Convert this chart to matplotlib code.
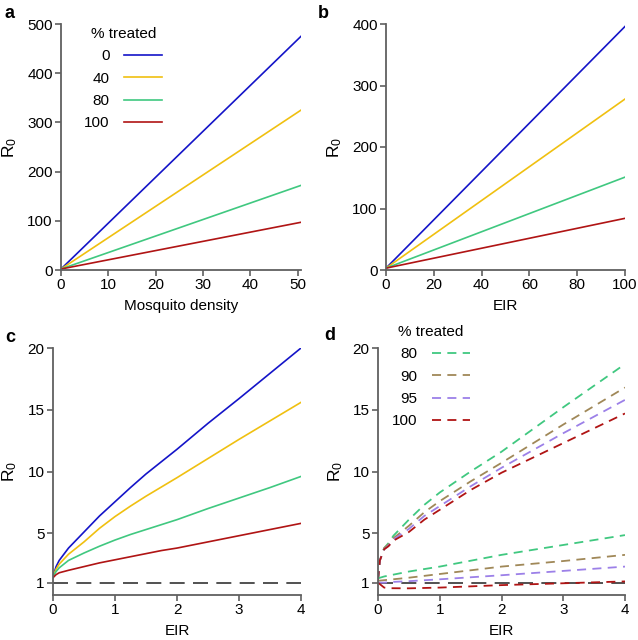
import numpy as np
import matplotlib
matplotlib.use("Agg")
import matplotlib.pyplot as plt

plt.rcParams['font.family'] = ['Liberation Sans', 'DejaVu Sans']
plt.rcParams['mathtext.fontset'] = 'custom'
plt.rcParams['mathtext.rm'] = 'Liberation Sans'
plt.rcParams['mathtext.it'] = 'Liberation Sans'
plt.rcParams['font.size'] = 11

# panel a: R0 vs mosquito density
dens = [0, 50.7]
a_vals = {"0": [2, 475], "40": [2, 325], "80": [2, 172], "100": [2, 97]}

# panel b: R0 vs EIR (large range)
eir_b = [0, 100]
b_vals = {"0": [3, 396], "40": [3, 278], "80": [3, 151], "100": [3, 84]}

# panel c: R0 vs EIR (small range)
eir_c = [0, 0.05, 0.1, 0.25, 0.5, 0.75, 1, 1.25, 1.5, 1.75, 2, 2.5, 3, 3.5, 4]
c_vals = {
    "0":   [1.5, 2.3, 2.8, 3.8, 5.1, 6.4, 7.55, 8.7, 9.8, 10.8, 11.8, 13.9, 15.9, 17.95, 20.0],
    "40":  [1.5, 2.1, 2.5, 3.3, 4.3, 5.4, 6.35, 7.2, 8.0, 8.75, 9.5, 11.05, 12.6, 14.1, 15.6],
    "80":  [1.5, 1.9, 2.2, 2.8, 3.4, 3.95, 4.45, 4.9, 5.3, 5.7, 6.1, 7.0, 7.85, 8.7, 9.6],
    "100": [1.4, 1.65, 1.8, 2.0, 2.3, 2.6, 2.85, 3.1, 3.35, 3.6, 3.8, 4.3, 4.8, 5.3, 5.8],
}

# panel d: two families of dashed curves
eir_d = [0, 0.03, 0.1, 0.17, 0.25, 0.5, 0.75, 1, 1.5, 2, 3, 4]
d_upper = {
    "80":  [1.2, 2.8, 3.8, 4.2, 4.8, 6.1, 7.3, 8.3, 10.0, 11.6, 15.2, 18.7],
    "90":  [1.2, 2.8, 3.8, 4.1, 4.6, 5.6, 6.7, 7.6, 9.2, 10.7, 13.8, 16.8],
    "95":  [1.2, 2.8, 3.7, 4.0, 4.5, 5.35, 6.4, 7.2, 8.8, 10.3, 13.1, 15.8],
    "100": [1.2, 2.8, 3.7, 3.95, 4.4, 5.1, 6.1, 6.9, 8.5, 9.9, 12.3, 14.7],
}
eir_d_low = [0, 0.1, 0.2, 0.5, 1, 2, 3, 4]
d_lower = {
    "80":  [1.35, 1.5, 1.6, 1.9, 2.3, 3.25, 4.05, 4.85],
    "90":  [1.15, 1.2, 1.25, 1.4, 1.7, 2.3, 2.75, 3.25],
    "95":  [1.0, 1.0, 1.05, 1.12, 1.27, 1.6, 1.95, 2.3],
    "100": [1.0, 0.6, 0.55, 0.54, 0.6, 0.8, 0.95, 1.1],
}

cols_solid = {"0": "#1414c8", "40": "#f0c010", "80": "#40c880", "100": "#b01414"}
cols_dash = {"80": "#40c880", "90": "#a08858", "95": "#9c80e8", "100": "#b01414"}

W, H = 638, 640
fig = plt.figure(figsize=(W / 100, H / 100), dpi=100)


def px(l, r, t, b):
    return [l / W, 1 - b / H, (r - l) / W, (b - t) / H]


def style(ax):
    for s in ["top", "right"]:
        ax.spines[s].set_visible(False)
    for s in ["left", "bottom"]:
        ax.spines[s].set_color("#606060")
        ax.spines[s].set_linewidth(1.3)
    ax.tick_params(direction="out", length=4, width=1.2, color="#606060", pad=2)


ax_a = fig.add_axes(px(61, 301, 24, 270))
ax_b = fig.add_axes(px(386, 625, 24, 270))
ax_c = fig.add_axes(px(53, 301, 348, 595))
ax_d = fig.add_axes(px(378, 625, 348, 595))

for k in a_vals:
    ax_a.plot(dens, a_vals[k], color=cols_solid[k], lw=1.2, label=k)
ax_a.set_xlim(0, 50.7)
ax_a.set_ylim(0, 500)
ax_a.set_xticks([0, 10, 20, 30, 40, 50])
ax_a.set_yticks([0, 100, 200, 300, 400, 500])
ax_a.set_xlabel("Mosquito density", labelpad=5)
ax_a.legend(title="% treated", frameon=False, markerfirst=False, loc="upper left",
            bbox_to_anchor=(0.065, 1.02), handlelength=2.5, handletextpad=0.95,
            labelspacing=0.55, borderpad=0, title_fontsize=11)

for k in b_vals:
    ax_b.plot(eir_b, b_vals[k], color=cols_solid[k], lw=1.2)
ax_b.set_xlim(0, 100)
ax_b.set_ylim(0, 400)
ax_b.set_xticks([0, 20, 40, 60, 80, 100])
ax_b.set_yticks([0, 100, 200, 300, 400])
ax_b.set_xlabel("EIR", labelpad=5)

for k in c_vals:
    ax_c.plot(eir_c, c_vals[k], color=cols_solid[k], lw=1.2)
ax_c.axhline(1, color="#333333", lw=1.2, dashes=(9, 5))
ax_c.set_xlim(0, 4)
ax_c.set_ylim(0, 20)
ax_c.set_xticks([0, 1, 2, 3, 4])
ax_c.set_yticks([1, 5, 10, 15, 20])
ax_c.set_xlabel("EIR", labelpad=5)

for k in d_upper:
    ax_d.plot(eir_d, d_upper[k], color=cols_dash[k], lw=1.3, dashes=(5, 3.5), label=k)
for k in d_lower:
    ax_d.plot(eir_d_low, d_lower[k], color=cols_dash[k], lw=1.3, dashes=(5, 3.5))
ax_d.axhline(1, color="#333333", lw=1.2, dashes=(9, 5), zorder=1)
ax_d.set_xlim(0, 4)
ax_d.set_ylim(0, 20)
ax_d.set_xticks([0, 1, 2, 3, 4])
ax_d.set_yticks([1, 5, 10, 15, 20])
ax_d.set_xlabel("EIR", labelpad=5)
ax_d.legend(title="% treated", frameon=False, markerfirst=False, loc="upper left",
            bbox_to_anchor=(0.025, 1.125), handlelength=2.5, handletextpad=0.95,
            labelspacing=0.55, borderpad=0, title_fontsize=11)

label_x = {ax_a: -0.176, ax_b: -0.176, ax_c: -0.139, ax_d: -0.134}
for ax in [ax_a, ax_b, ax_c, ax_d]:
    style(ax)
    ax.set_ylabel(r"R$_0$", fontsize=12.5)
    ax.yaxis.set_label_coords(label_x[ax], 0.5)

for letter, x, y in [("a", 10, 13), ("b", 323, 13), ("c", 10, 337), ("d", 330, 336)]:
    fig.text(x / W, 1 - y / H, letter, fontweight="bold", fontsize=13,
             ha="center", va="center")

fig.savefig("out.png", dpi=100)
